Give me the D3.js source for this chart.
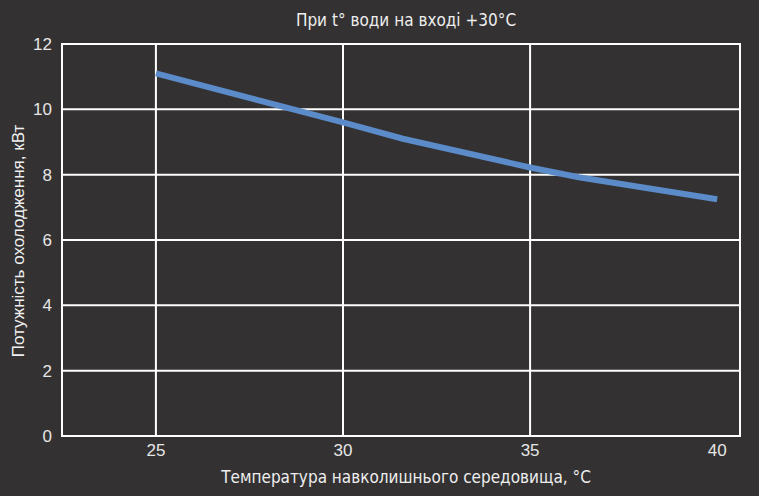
<!DOCTYPE html>
<html>
<head>
<meta charset="utf-8">
<script src="https://cdn.jsdelivr.net/npm/d3@7"></script>
<style>
  body { margin: 0; background: #333132; }
  svg { display: block; }
  .grid line { stroke: #ffffff; stroke-width: 2px; }
  .tick-label { fill: #e6e6e6; font-family: "Liberation Sans", Arial, sans-serif; font-size: 17px; }
  .cond { fill: #eeeeee; font-family: "Liberation Sans Narrow", "DejaVu Sans Condensed", sans-serif; }
</style>
</head>
<body>
<svg id="chart"></svg>
<script>
const WIDTH = 759;
const HEIGHT = 496;
const MARGIN_LEFT = 62;
const MARGIN_RIGHT = 19;
const MARGIN_TOP = 44;
const MARGIN_BOTTOM = 60;

// ambient temperature, °C
const temps = [25, 30, 31.6, 35, 36.3, 40];
// cooling capacity, kW
const power = [11.1, 9.6, 9.1, 8.22, 7.92, 7.25];

const xTicks = [25, 30, 35, 40];
const xGrid = [25, 30, 35];
const yTicks = [0, 2, 4, 6, 8, 10, 12];

const title = 'При t° води на вході +30°C';
const xTitle = 'Температура навколишнього середовища, °C';
const yTitle = 'Потужність охолодження, кВт';

const svg = d3.select('#chart').attr('width', WIDTH).attr('height', HEIGHT);

svg.append('rect')
	.attr('width', WIDTH)
	.attr('height', HEIGHT)
	.attr('fill', '#333132');

const x = d3.scaleLinear()
	.domain([22.49, 40.61])
	.range([MARGIN_LEFT, WIDTH - MARGIN_RIGHT]);

const y = d3.scaleLinear()
	.domain([0, 12])
	.range([HEIGHT - MARGIN_BOTTOM, MARGIN_TOP]);

// horizontal gridlines
svg.append('g')
	.attr('class', 'grid')
	.selectAll('line')
	.data(yTicks)
	.enter()
	.append('line')
	.attr('x1', MARGIN_LEFT)
	.attr('x2', WIDTH - MARGIN_RIGHT)
	.attr('y1', d => y(d))
	.attr('y2', d => y(d));

// vertical gridlines + frame sides
svg.append('g')
	.attr('class', 'grid')
	.selectAll('line')
	.data(xGrid.map(d => x(d)).concat([MARGIN_LEFT, WIDTH - MARGIN_RIGHT]))
	.enter()
	.append('line')
	.attr('x1', d => d)
	.attr('x2', d => d)
	.attr('y1', MARGIN_TOP - 1)
	.attr('y2', HEIGHT - MARGIN_BOTTOM + 1);

const line = d3.line()
	.x(d => x(d[0]))
	.y(d => y(d[1]));

svg.append('path')
	.datum(temps.map((t, i) => [t, power[i]]))
	.attr('d', line)
	.attr('fill', 'none')
	.attr('stroke', '#5b8bc8')
	.attr('stroke-width', 6);

// y tick labels
svg.selectAll('.ylab')
	.data(yTicks)
	.enter()
	.append('text')
	.attr('class', 'tick-label')
	.attr('x', 52)
	.attr('y', d => y(d))
	.attr('dy', '0.35em')
	.attr('text-anchor', 'end')
	.text(d => d);

// x tick labels
svg.selectAll('.xlab')
	.data(xTicks)
	.enter()
	.append('text')
	.attr('class', 'tick-label')
	.attr('x', d => x(d))
	.attr('y', 456)
	.attr('text-anchor', 'middle')
	.text(d => d);

svg.append('text')
	.attr('class', 'cond')
	.attr('x', 406)
	.attr('y', 26)
	.attr('text-anchor', 'middle')
	.attr('font-size', '17px')
	.text(title);

svg.append('text')
	.attr('class', 'cond')
	.attr('x', 406)
	.attr('y', 483)
	.attr('text-anchor', 'middle')
	.attr('font-size', '17px')
	.text(xTitle);

svg.append('text')
	.attr('fill', '#f0f0f0')
	.attr('font-family', '"Liberation Sans", Arial, sans-serif')
	.attr('font-size', '17px')
	.attr('text-anchor', 'middle')
	.attr('transform', 'translate(24, 241) rotate(-90)')
	.text(yTitle);
</script>
</body>
</html>
